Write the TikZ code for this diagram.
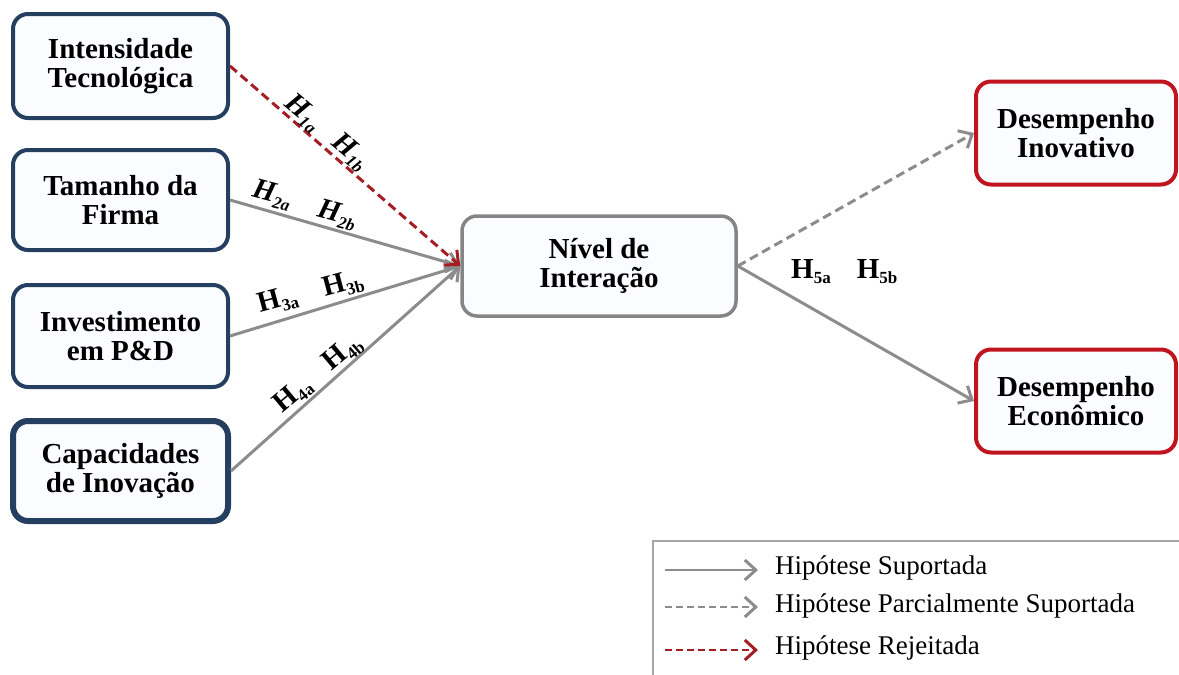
\documentclass[tikz,border=0pt]{standalone}
\usepackage{fontspec}
\setmainfont{Liberation Serif}
\usetikzlibrary{arrows.meta}
\definecolor{navyb}{HTML}{243F60}
\definecolor{greyb}{HTML}{858585}
\definecolor{redb}{HTML}{C0141E}
\definecolor{redl}{HTML}{A41E24}
\definecolor{lineg}{HTML}{8C8C8C}
\definecolor{boxfill}{HTML}{FBFCFF}
\newcommand\hlab[1]{H\raisebox{-5pt}{\fontsize{17}{17}\selectfont #1}}
\tikzset{
  cbox/.style={draw, rounded corners=15pt, fill=boxfill, align=center, inner sep=0pt,
     font=\fontsize{29}{29}\selectfont\bfseries},
  leftbox/.style={cbox, draw=navyb, line width=4pt, minimum width=215pt},
  midbox/.style={cbox, draw=greyb, line width=3.5pt, minimum width=274pt, minimum height=100pt},
  outbox/.style={cbox, draw=redb, line width=4pt, minimum width=200pt, minimum height=103pt},
  tipb/.style={-{Straight Barb[length=11pt,width=20pt,line width=3pt]}},
  supp/.style={tipb, draw=lineg, line width=3pt},
  part/.style={tipb, draw=lineg, line width=3pt, dash pattern=on 9pt off 5pt},
  rej/.style={tipb, draw=redl, line width=3pt, dash pattern=on 9pt off 5pt},
  hl/.style={font=\fontsize{29}{29}\selectfont\bfseries, inner sep=0pt},
  hli/.style={font=\fontsize{29}{29}\selectfont\bfseries\itshape, inner sep=0pt},
  legtxt/.style={anchor=west, font=\fontsize{27}{28}\selectfont, inner sep=0pt},
}
\begin{document}
\begin{tikzpicture}[x=1pt,y=-1pt]
\useasboundingbox (0,0) rectangle (1179,675);
% boxes
\node[leftbox, minimum height=104pt] (it) at (120.5,66) {Intensidade\\Tecnológica};
\node[leftbox, minimum height=100pt] (tf) at (120.5,200) {Tamanho da\\Firma};
\node[leftbox, minimum height=102pt] (ip) at (120.5,336) {Investimento\\em P\&D};
\node[leftbox, minimum height=100pt, line width=6pt] (ci) at (120.5,471) {Capacidades\\de Inovação};
\node[midbox] (ni) at (599,266) {Nível de\\Interação};
\node[outbox] (di) at (1076,133) {Desempenho\\Inovativo};
\node[outbox] (de) at (1076,401) {Desempenho\\Econômico};
% connectors
\draw[supp] (tf.east) -- (ni.west);
\draw[supp] (ip.east) -- (ni.west);
\draw[supp] (ci.east) -- (ni.west);
\draw[rej] (it.east) -- (ni.west);
\draw[part] (ni.east) -- (di.west);
\draw[supp] (ni.east) -- (de.west);
% hypothesis labels
\node[hli, rotate=-40] (h1a) at (303,113) {\hlab{1a}};
\node[hli, rotate=-40] (h1b) at (350,152) {\hlab{1b}};
\node[hli, rotate=-15] (h2a) at (272,195) {\hlab{2a}};
\node[hli, rotate=-15] (h2b) at (337,215) {\hlab{2b}};
\node[hl, rotate=15] (h3a) at (278,301) {\hlab{3a}};
\node[hl, rotate=15] (h3b) at (343,285) {\hlab{3b}};
\node[hl, rotate=40] (h4a) at (293,395) {\hlab{4a}};
\node[hl, rotate=40] (h4b) at (343,353) {\hlab{4b}};
\node[hl] (h5a) at (811,272) {\hlab{5a}};
\node[hl] (h5b) at (877,272) {\hlab{5b}};
% legend
\draw[draw=black!35, line width=1.5pt] (653,680) -- (653,541) -- (1185,541);
\coordinate (l1a) at (665,570); \coordinate (l1b) at (758,570);
\coordinate (l2a) at (665,607); \coordinate (l2b) at (758,607);
\coordinate (l3a) at (665,650); \coordinate (l3b) at (758,650);
\draw[supp, line width=2.5pt] (l1a) -- (l1b);
\draw[part, line width=2.5pt, dash pattern=on 7pt off 4pt] (l2a) -- (l2b);
\draw[rej, line width=2.5pt, dash pattern=on 7pt off 4pt] (l3a) -- (l3b);
\node[legtxt] (t1) at (775,568) {Hipótese Suportada};
\node[legtxt] (t2) at (775,606) {Hipótese Parcialmente Suportada};
\node[legtxt] (t3) at (775,648) {Hipótese Rejeitada};
\end{tikzpicture}
\end{document}
